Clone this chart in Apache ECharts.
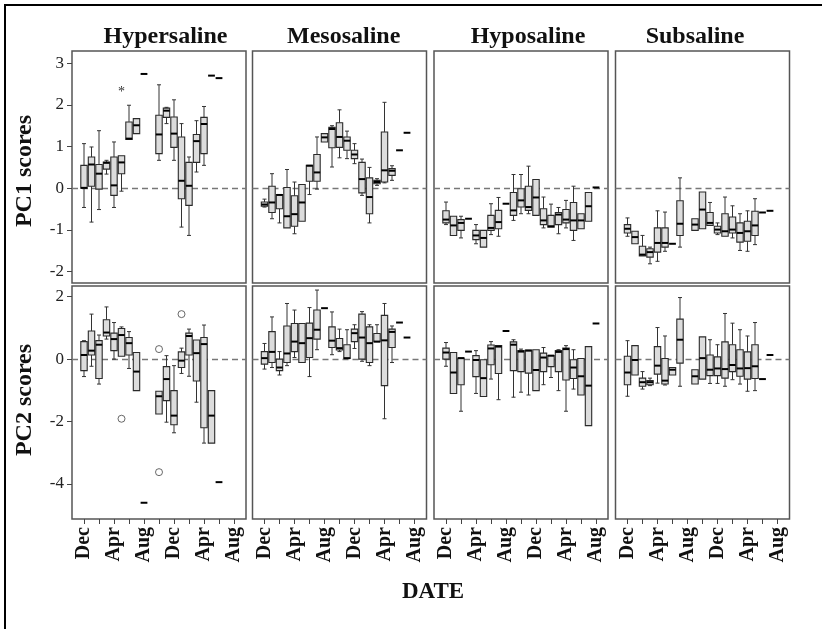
<!DOCTYPE html>
<html>
<head>
<meta charset="utf-8">
<script src="https://cdn.jsdelivr.net/npm/echarts@6/dist/echarts.min.js"></script>
<style>
  html, body { margin: 0; padding: 0; background: #fff; }
  #chart { width: 822px; height: 629px; }
</style>
</head>
<body>
<div id="chart"></div>
<script>
// Months counted from the first December (0 = Dec, 4 = Apr, 8 = Aug, 12 = Dec ...)
const zones = ['Hypersaline', 'Mesosaline', 'Hyposaline', 'Subsaline'];
const tickMonths = [0, 2, 4, 6, 8, 10, 12, 14, 16, 18, 20];
const labelMonths = [0, 4, 8, 12, 16, 20];
const labelNames = ['Dec', 'Apr', 'Aug', 'Dec', 'Apr', 'Aug'];
const pc1Ticks = [-2, -1, 0, 1, 2, 3];
const pc2Ticks = [-4, -2, 0, 2];

// Box rows: [month, lower whisker, Q1, median, Q3, upper whisker]
const hyperPC1 = [
  [0, -0.46, 0.00, 0.01, 0.55, 1.07], [1, -0.81, 0.05, 0.57, 0.75, 0.99],
  [2, -0.51, -0.02, 0.35, 0.57, 1.38], [3, 0.34, 0.46, 0.61, 0.63, 0.67],
  [4, -0.46, -0.17, 0.07, 0.75, 1.11], [5, -0.07, 0.35, 0.62, 0.78, 0.78],
  [6, 1.17, 1.17, 1.19, 1.59, 1.99], [7, 1.31, 1.31, 1.51, 1.67, 1.67],
  [10, 0.67, 0.83, 1.29, 1.75, 2.48], [11, 1.55, 1.70, 1.86, 1.92, 1.94],
  [12, 0.67, 0.98, 1.31, 1.71, 2.12], [13, -0.93, -0.25, 0.18, 1.23, 1.55],
  [14, -1.13, -0.41, 0.06, 0.62, 0.75], [15, 0.39, 0.62, 1.13, 1.29, 1.62],
  [16, 0.55, 0.83, 1.54, 1.70, 1.96]
];
const mesoPC1 = [
  [0, -0.45, -0.43, -0.39, -0.33, -0.26], [1, -0.73, -0.58, -0.34, 0.05, 0.35],
  [2, -0.83, -0.49, -0.16, -0.15, -0.15], [3, -0.95, -0.95, -0.67, 0.02, 0.45],
  [4, -1.09, -0.91, -0.62, -0.18, 0.15], [5, -0.79, -0.79, -0.34, 0.09, 0.09],
  [6, -0.15, 0.17, 0.54, 0.55, 0.55], [7, -0.02, 0.17, 0.38, 0.81, 1.23],
  [8, 1.11, 1.11, 1.22, 1.31, 1.31], [9, 0.51, 0.97, 1.42, 1.46, 1.50],
  [10, 0.73, 0.98, 1.23, 1.57, 1.88], [11, 0.71, 0.91, 1.14, 1.23, 1.37],
  [12, 0.59, 0.71, 0.81, 0.91, 1.07], [13, -0.17, -0.11, 0.22, 0.62, 0.70],
  [14, -0.83, -0.61, -0.21, 0.25, 0.50], [15, 0.07, 0.11, 0.15, 0.19, 0.23],
  [16, 0.13, 0.15, 0.43, 1.35, 2.06], [17, 0.19, 0.31, 0.42, 0.47, 0.54]
];
const hypoPC1 = [
  [0, -0.87, -0.83, -0.75, -0.54, -0.33], [1, -1.13, -1.13, -0.89, -0.67, -0.67],
  [2, -1.19, -1.01, -0.83, -0.75, -0.67], [4, -1.33, -1.23, -1.13, -1.01, -0.87],
  [5, -1.41, -1.41, -1.19, -1.01, -1.01], [6, -1.11, -1.01, -0.95, -0.65, -0.37],
  [7, -1.15, -0.97, -0.81, -0.53, -0.22], [9, -0.77, -0.65, -0.53, -0.10, 0.33],
  [10, -0.61, -0.45, -0.29, -0.01, 0.33], [11, -0.61, -0.53, -0.45, 0.05, 0.53],
  [12, -0.65, -0.65, -0.22, 0.21, 0.21], [13, -0.95, -0.87, -0.77, -0.49, -0.21],
  [14, -0.93, -0.93, -0.91, -0.65, -0.38], [15, -1.09, -0.87, -0.63, -0.58, -0.46],
  [16, -0.95, -0.83, -0.75, -0.51, -0.29], [17, -1.25, -1.01, -0.77, -0.34, 0.05],
  [18, -0.97, -0.97, -0.77, -0.61, -0.61], [19, -0.79, -0.79, -0.43, -0.10, -0.10]
];
const subPC1 = [
  [0, -1.15, -1.07, -0.97, -0.87, -0.71], [1, -1.33, -1.33, -1.17, -1.03, -1.03],
  [2, -1.62, -1.62, -1.59, -1.39, -1.13], [3, -1.81, -1.65, -1.53, -1.45, -1.41],
  [4, -1.75, -1.53, -1.31, -0.95, -0.54], [5, -1.51, -1.41, -1.31, -0.95, -0.57],
  [7, -1.41, -1.13, -0.85, -0.30, 0.25], [9, -1.01, -1.01, -0.87, -0.73, -0.73],
  [10, -0.97, -0.97, -0.51, -0.09, -0.09], [11, -0.89, -0.89, -0.83, -0.58, -0.34],
  [12, -1.11, -1.07, -0.99, -0.91, -0.83], [13, -1.15, -1.15, -1.03, -0.61, -0.21],
  [14, -1.19, -1.07, -0.99, -0.69, -0.42], [15, -1.49, -1.29, -1.07, -0.83, -0.61],
  [16, -1.51, -1.27, -1.03, -0.79, -0.54], [17, -1.35, -1.13, -0.89, -0.55, -0.25]
];
const hyperPC2 = [
  [0, -0.56, -0.37, 0.13, 0.56, 0.59], [1, -0.23, 0.13, 0.27, 0.90, 1.44],
  [2, -0.80, -0.62, 0.46, 0.59, 0.77], [3, 0.64, 0.74, 0.85, 1.26, 1.67],
  [4, 0.00, 0.27, 0.64, 0.83, 1.17], [5, 0.09, 0.09, 0.77, 0.98, 1.03],
  [6, -0.30, 0.13, 0.51, 0.69, 0.88], [7, -1.01, -1.01, -0.40, 0.21, 0.21],
  [10, -1.76, -1.76, -1.19, -1.03, -1.03], [11, -2.02, -1.33, -0.64, -0.24, 0.11],
  [12, -2.36, -2.10, -1.81, -1.01, -0.21], [13, -0.46, -0.27, -0.05, 0.23, 0.35],
  [14, -0.55, 0.13, 0.74, 0.83, 0.96], [15, -1.38, -0.70, 0.19, 0.61, 0.61],
  [16, -2.69, -2.20, 0.48, 0.69, 1.09], [17, -2.69, -2.69, -1.81, -1.01, -1.01]
];
const mesoPC2 = [
  [0, -0.32, -0.16, 0.03, 0.24, 0.50], [1, -0.27, -0.11, 0.23, 0.88, 1.35],
  [2, -0.51, -0.37, -0.27, 0.00, 0.24], [3, -0.21, -0.11, 0.18, 1.06, 1.78],
  [4, 0.05, 0.24, 0.56, 1.14, 1.57], [5, -0.11, -0.11, 0.51, 1.14, 1.14],
  [6, -0.56, 0.05, 0.67, 1.15, 1.65], [7, 0.30, 0.64, 0.94, 1.57, 2.21],
  [9, 0.14, 0.37, 0.59, 1.03, 1.51], [10, 0.24, 0.29, 0.35, 0.66, 0.96],
  [11, 0.02, 0.02, 0.03, 0.46, 0.94], [12, 0.34, 0.56, 0.83, 0.96, 1.10],
  [13, -0.07, 0.00, 0.69, 1.44, 1.52], [14, -0.21, -0.11, 0.51, 1.03, 1.10],
  [15, 0.56, 0.56, 0.56, 0.82, 1.10], [16, -1.91, -0.85, 0.60, 1.40, 1.78],
  [17, -0.11, 0.37, 0.87, 0.96, 1.06]
];
const hypoPC2 = [
  [0, -0.23, 0.00, 0.21, 0.35, 0.53], [1, -1.10, -1.10, -0.43, 0.21, 0.21],
  [2, -1.67, -0.82, 0.03, 0.03, 0.03], [4, -1.10, -0.56, -0.03, 0.11, 0.27],
  [5, -1.20, -1.20, -0.61, -0.02, -0.02], [6, -0.64, -0.18, 0.34, 0.45, 0.56],
  [7, -1.30, -0.46, 0.40, 0.43, 0.43], [9, -1.22, -0.37, 0.46, 0.55, 0.62],
  [10, -1.06, -0.40, 0.24, 0.27, 0.32], [11, -1.15, -0.45, 0.27, 0.29, 0.30],
  [12, -1.01, -1.01, -0.35, 0.30, 0.30], [13, -0.82, -0.40, 0.05, 0.19, 0.37],
  [14, -0.59, -0.24, 0.11, 0.11, 0.11], [15, -1.01, -0.40, 0.23, 0.27, 0.30],
  [16, -1.67, -0.67, 0.32, 0.35, 0.43], [17, -0.96, -0.62, -0.27, -0.02, 0.30],
  [18, -1.15, -1.15, -0.55, 0.02, 0.02], [19, -2.13, -2.13, -0.85, 0.40, 0.40]
];
const subPC2 = [
  [0, -1.19, -0.82, -0.43, 0.09, 0.59], [1, -0.51, -0.51, -0.03, 0.43, 0.43],
  [2, -0.96, -0.87, -0.74, -0.61, -0.40], [3, -0.85, -0.82, -0.74, -0.69, -0.61],
  [4, -0.77, -0.48, -0.21, 0.40, 1.01], [5, -0.83, -0.80, -0.69, 0.02, 0.74],
  [6, -0.51, -0.51, -0.34, -0.27, -0.27], [7, -0.87, -0.13, 0.62, 1.28, 1.97],
  [9, -0.80, -0.80, -0.55, -0.34, -0.34], [10, -0.64, -0.64, 0.03, 0.71, 0.71],
  [11, -0.78, -0.53, -0.34, 0.13, 0.62], [12, -0.78, -0.53, -0.30, 0.07, 0.46],
  [13, -0.87, -0.61, -0.32, 0.55, 1.46], [14, -0.66, -0.40, -0.19, 0.46, 1.15],
  [15, -0.80, -0.55, -0.30, 0.30, 0.94], [16, -1.03, -0.64, -0.29, 0.23, 0.74],
  [17, -1.01, -0.62, -0.23, 0.46, 1.17]
];

// Months with a single sample: [month, value]
const hyperPC1Single = [[8, 2.74], [17, 2.70], [18, 2.64]];
const mesoPC1Single = [[18, 0.91], [19, 1.33]];
const hypoPC1Single = [[3, -0.73], [8, -0.37], [20, 0.02]];
const subPC1Single = [[6, -1.33], [18, -0.58], [19, -0.54]];
const hyperPC2Single = [[8, -4.60], [18, -3.94]];
const mesoPC2Single = [[8, 1.63], [18, 1.17], [19, 0.69]];
const hypoPC2Single = [[3, 0.24], [8, 0.90], [20, 1.14]];
const subPC2Single = [[18, -0.64], [19, 0.13]];

// Outlying samples
const hyperPC1Extreme = [[5, 2.37]];
const hyperPC2Outliers = [[5, -1.91], [10, 0.32], [10, -3.62], [13, 1.44]];

const boxSets = [hyperPC1, mesoPC1, hypoPC1, subPC1, hyperPC2, mesoPC2, hypoPC2, subPC2];
const singleSets = [hyperPC1Single, mesoPC1Single, hypoPC1Single, subPC1Single,
                    hyperPC2Single, mesoPC2Single, hypoPC2Single, subPC2Single];

const SERIF = 'Liberation Serif';
const panelLeft = [72, 252.5, 434, 615.5];
const panelWidth = 174;
const rowTop = [51, 286];
const rowHeight = [232, 233];
const rowRange = [[-2.27, 3.29], [-5.12, 2.34]];
const rowTicks = [pc1Ticks, pc2Ticks];

function line(x1, y1, x2, y2, w, c) {
  return { type: 'line', shape: { x1, y1, x2, y2 }, style: { stroke: c, lineWidth: w } };
}

function renderBox(params, api) {
  const m = api.value(0);
  const lo = api.coord([m, api.value(1)]);
  const q1 = api.coord([m, api.value(2)]);
  const md = api.coord([m, api.value(3)]);
  const q3 = api.coord([m, api.value(4)]);
  const hi = api.coord([m, api.value(5)]);
  const cx = md[0], hw = 3.2, cw = 2;
  const kids = [];
  if (hi[1] < q3[1] - 0.5) {
    kids.push(line(cx, q3[1], cx, hi[1], 1, '#333'));
    kids.push(line(cx - cw, hi[1], cx + cw, hi[1], 1, '#333'));
  }
  if (lo[1] > q1[1] + 0.5) {
    kids.push(line(cx, q1[1], cx, lo[1], 1, '#333'));
    kids.push(line(cx - cw, lo[1], cx + cw, lo[1], 1, '#333'));
  }
  kids.push({
    type: 'rect',
    shape: { x: cx - hw, y: q3[1], width: 2 * hw, height: Math.max(q1[1] - q3[1], 1) },
    style: { fill: '#dcdcdc', stroke: '#2a2a2a', lineWidth: 1.1 }
  });
  kids.push(line(cx - hw, md[1], cx + hw, md[1], 2, '#000'));
  return { type: 'group', children: kids };
}

function renderSingle(params, api) {
  const p = api.coord([api.value(0), api.value(1)]);
  return line(p[0] - 3.4, p[1], p[0] + 3.4, p[1], 2, '#000');
}

function renderStar(params, api) {
  const p = api.coord([api.value(0), api.value(1)]);
  return {
    type: 'text',
    style: { x: p[0], y: p[1] + 3, text: '*', fill: '#333', font: '14px ' + SERIF,
             textAlign: 'center', textVerticalAlign: 'middle' }
  };
}

const grids = [], xAxes = [], yAxes = [], series = [];
for (let r = 0; r < 2; r++) {
  for (let c = 0; c < 4; c++) {
    const i = r * 4 + c;
    grids.push({
      left: panelLeft[c], top: rowTop[r], width: panelWidth, height: rowHeight[r],
      show: true, borderColor: '#555', borderWidth: 1.5, containLabel: false
    });
    xAxes.push({
      type: 'value', gridIndex: i, min: -1.6, max: 21.6, position: 'bottom',
      splitLine: { show: false }, axisLine: { show: false, onZero: false },
      axisTick: { show: r === 1, customValues: tickMonths, length: 5,
                  lineStyle: { color: '#444', width: 1 } },
      axisLabel: {
        show: r === 1, customValues: labelMonths, rotate: 90, margin: 8,
        fontFamily: SERIF, fontWeight: 'bold', fontSize: 20, color: '#111',
        formatter: v => labelNames[labelMonths.indexOf(Math.round(v))] || ''
      }
    });
    yAxes.push({
      type: 'value', gridIndex: i, min: rowRange[r][0], max: rowRange[r][1], position: 'left',
      splitLine: { show: false }, axisLine: { show: false, onZero: false },
      axisTick: { show: c === 0, customValues: rowTicks[r], length: 5,
                  lineStyle: { color: '#444', width: 1 } },
      axisLabel: { show: c === 0, customValues: rowTicks[r], margin: 8,
                   fontFamily: SERIF, fontSize: 17, color: '#222' }
    });
    series.push({
      type: 'custom', xAxisIndex: i, yAxisIndex: i, z: 3,
      renderItem: renderBox, data: boxSets[i], encode: { x: 0, y: [1, 2, 3, 4, 5] },
      silent: true,
      markLine: {
        silent: true, symbol: 'none', z: 1, label: { show: false },
        lineStyle: { color: '#777', type: [6, 4], width: 1.3 },
        data: [{ yAxis: 0 }]
      }
    });
    series.push({
      type: 'custom', xAxisIndex: i, yAxisIndex: i, z: 3,
      renderItem: renderSingle, data: singleSets[i], encode: { x: 0, y: 1 }, silent: true
    });
  }
}
series.push({
  type: 'custom', xAxisIndex: 0, yAxisIndex: 0, z: 4,
  renderItem: renderStar, data: hyperPC1Extreme, encode: { x: 0, y: 1 }, silent: true
});
series.push({
  type: 'scatter', xAxisIndex: 4, yAxisIndex: 4, z: 4, silent: true,
  symbol: 'circle', symbolSize: 7, data: hyperPC2Outliers,
  itemStyle: { color: '#fff', borderColor: '#444', borderWidth: 1 }
});

const titleCenters = [165.5, 343.7, 528, 695];
const graphic = [
  { type: 'rect', shape: { x: 5, y: 5, width: 900, height: 900 },
    style: { fill: 'none', stroke: '#000', lineWidth: 2 }, z: 0 },
  { type: 'text', x: 25, y: 171, rotation: Math.PI / 2,
    style: { text: 'PC1 scores', font: 'bold 24px ' + SERIF, fill: '#111',
             textAlign: 'center', textVerticalAlign: 'middle' } },
  { type: 'text', x: 25, y: 400, rotation: Math.PI / 2,
    style: { text: 'PC2 scores', font: 'bold 24px ' + SERIF, fill: '#111',
             textAlign: 'center', textVerticalAlign: 'middle' } },
  { type: 'text', x: 433, y: 592,
    style: { text: 'DATE', font: 'bold 23px ' + SERIF, fill: '#111',
             textAlign: 'center', textVerticalAlign: 'middle' } }
];
zones.forEach((z, k) => graphic.push({
  type: 'text', x: titleCenters[k], y: 37,
  style: { text: z, font: 'bold 24px ' + SERIF, fill: '#111',
           textAlign: 'center', textVerticalAlign: 'middle' }
}));

const chart = echarts.init(document.getElementById('chart'), null, { renderer: 'canvas' });
chart.setOption({
  animation: false,
  backgroundColor: '#fff',
  grid: grids, xAxis: xAxes, yAxis: yAxes, series: series, graphic: graphic
});
</script>
</body>
</html>
